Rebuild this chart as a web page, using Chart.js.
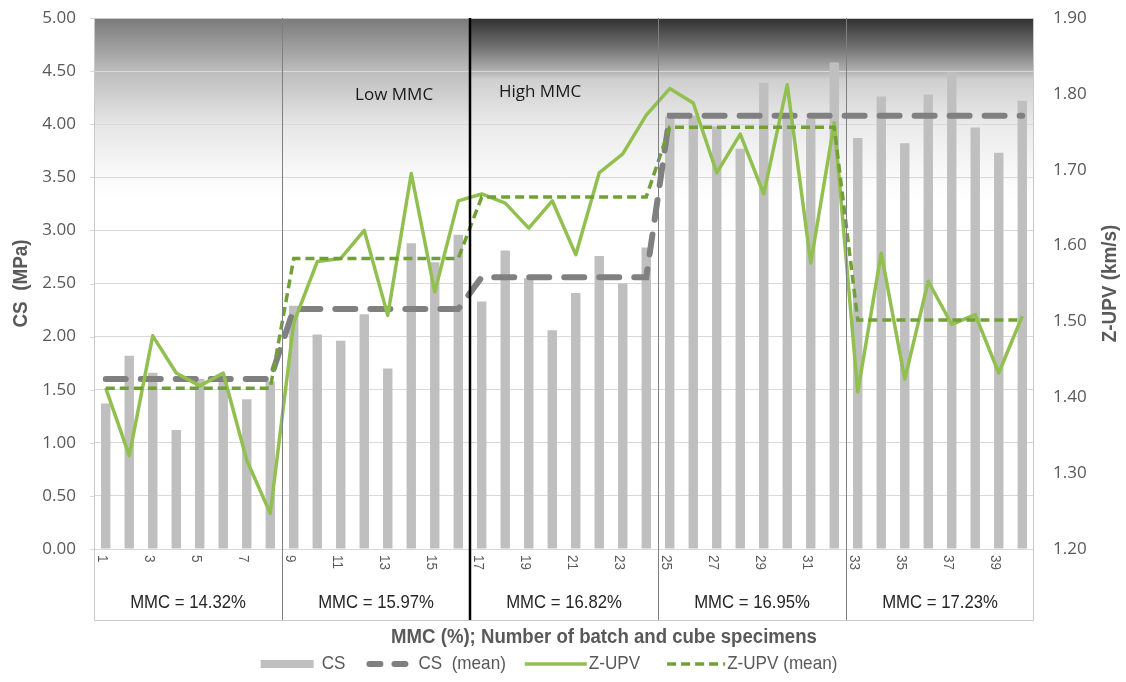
<!DOCTYPE html>
<html>
<head>
<meta charset="utf-8">
<script src="https://cdn.jsdelivr.net/npm/chart.js@4.4.1/dist/chart.umd.min.js"></script>
<style>
  html, body { margin: 0; padding: 0; background: #ffffff; }
  canvas { display: block; }
</style>
</head>
<body>
<canvas id="chart" width="1126" height="682"></canvas>
<script>
// Batch / cube specimen numbers (x categories)
const batchLabels = ['1','2','3','4','5','6','7','8','9','10','11','12','13','14','15','16','17','18','19','20',
                     '21','22','23','24','25','26','27','28','29','30','31','32','33','34','35','36','37','38','39','40'];

// MMC groups: caption and the last batch index (0-based) of each group
const groupLabels = ['MMC = 14.32%', 'MMC = 15.97%', 'MMC = 16.82%', 'MMC = 16.95%', 'MMC = 17.23%'];
const groupLastIndex = [7, 15, 23, 31, 39];

// Compressive strength, MPa
const csValues = [1.37, 1.82, 1.66, 1.12, 1.60, 1.62, 1.41, 1.58,
                  2.29, 2.02, 1.96, 2.21, 1.70, 2.88, 2.70, 2.96,
                  2.33, 2.81, 2.55, 2.06, 2.41, 2.76, 2.50, 2.84,
                  4.07, 4.08, 3.98, 3.77, 4.39, 4.10, 4.05, 4.58,
                  3.87, 4.26, 3.82, 4.28, 4.49, 3.97, 3.73, 4.22];

// Compressive strength, group mean, MPa
const csMean = [1.60, 1.60, 1.60, 1.60, 1.60, 1.60, 1.60, 1.60,
                2.26, 2.26, 2.26, 2.26, 2.26, 2.26, 2.26, 2.26,
                2.56, 2.56, 2.56, 2.56, 2.56, 2.56, 2.56, 2.56,
                4.08, 4.08, 4.08, 4.08, 4.08, 4.08, 4.08, 4.08,
                4.08, 4.08, 4.08, 4.08, 4.08, 4.08, 4.08, 4.08];

// Z-direction ultrasonic pulse velocity, km/s
const zupvValues = [1.412, 1.323, 1.481, 1.432, 1.415, 1.432, 1.317, 1.247,
                    1.498, 1.579, 1.583, 1.620, 1.508, 1.695, 1.539, 1.659,
                    1.668, 1.656, 1.623, 1.659, 1.588, 1.696, 1.721, 1.772,
                    1.807, 1.788, 1.696, 1.747, 1.668, 1.812, 1.577, 1.762,
                    1.407, 1.590, 1.424, 1.553, 1.496, 1.509, 1.432, 1.507];

// Z-UPV group mean, km/s
const zupvMean = [1.412, 1.412, 1.412, 1.412, 1.412, 1.412, 1.412, 1.412,
                  1.583, 1.583, 1.583, 1.583, 1.583, 1.583, 1.583, 1.583,
                  1.664, 1.664, 1.664, 1.664, 1.664, 1.664, 1.664, 1.664,
                  1.756, 1.756, 1.756, 1.756, 1.756, 1.756, 1.756, 1.756,
                  1.502, 1.502, 1.502, 1.502, 1.502, 1.502, 1.502, 1.502];

// Zone captions: text, position as (category index, CS value)
const zoneNames = ['Low MMC', 'High MMC'];
const zoneAt = [[12.27, 4.275], [18.48, 4.30]];

const axisTitleLeft = 'CS  (MPa)';
const axisTitleRight = 'Z-UPV (km/s)';
const axisTitleX = 'MMC (%); Number of batch and cube specimens';

const SANS = "'Liberation Sans', Arial, sans-serif";
const TEXT_GREY = '#595959';
const PLOT = { top: 18, bottom: 549, left: 94, right: 1034, tableBottom: 620 };

// Boundary pixel between category i and i+1
function boundaryPx(xs, i) {
  return (xs.getPixelForValue(i) + xs.getPixelForValue(i + 1)) / 2;
}

// Text drawn slightly condensed along its own direction
function condensedText(ctx, text, x, y, sx, angle) {
  ctx.save();
  ctx.translate(x, y);
  if (angle) ctx.rotate(angle);
  ctx.scale(sx, 1);
  ctx.fillText(text, 0, 0);
  ctx.restore();
}

// Shaded band at the top of the plot
const backdrop = {
  id: 'backdrop',
  beforeDraw(chart) {
    const { ctx, chartArea: a, scales } = chart;
    const xs = scales.x, ys = scales.y;
    const split = boundaryPx(xs, 15);
    const yEnd = ys.getPixelForValue(3.25);

    const light = ctx.createLinearGradient(0, a.top, 0, yEnd);
    light.addColorStop(0.00, '#7a7a7a');
    light.addColorStop(0.29, '#bdbdbd');
    light.addColorStop(0.58, '#e7e7e7');
    light.addColorStop(0.87, '#fbfbfb');
    light.addColorStop(1.00, '#ffffff');

    const dark = ctx.createLinearGradient(0, a.top, 0, yEnd);
    dark.addColorStop(0.00, '#303030');
    dark.addColorStop(0.15, '#6e6e6e');
    dark.addColorStop(0.29, '#b4b4b4');
    dark.addColorStop(0.33, '#cfcfcf');
    dark.addColorStop(0.58, '#ebebeb');
    dark.addColorStop(0.87, '#fafafa');
    dark.addColorStop(1.00, '#ffffff');

    ctx.save();
    ctx.fillStyle = light;
    ctx.fillRect(a.left, a.top, split - a.left, yEnd - a.top);
    ctx.fillStyle = dark;
    ctx.fillRect(split, a.top, a.right - split, yEnd - a.top);
    ctx.restore();
  }
};

// Group separators, table under the axis, captions and legend
const overlay = {
  id: 'overlay',
  afterDraw(chart) {
    const { ctx, chartArea: a, scales } = chart;
    const xs = scales.x, ys = scales.y;
    const tableBottom = PLOT.tableBottom;

    ctx.save();

    // short tick marks on the CS axis
    ctx.strokeStyle = '#d9d9d9';
    ctx.lineWidth = 1;
    ys.ticks.forEach(t => {
      const py = Math.round(ys.getPixelForValue(t.value)) + 0.5;
      ctx.beginPath();
      ctx.moveTo(a.left - 4, py);
      ctx.lineTo(a.left, py);
      ctx.stroke();
    });

    // plot and table frame
    ctx.strokeStyle = '#c9c9c9';
    ctx.beginPath();
    ctx.moveTo(a.left + 0.5, a.top + 0.5);
    ctx.lineTo(a.right - 0.5, a.top + 0.5);
    ctx.lineTo(a.right - 0.5, tableBottom + 0.5);
    ctx.lineTo(a.left + 0.5, tableBottom + 0.5);
    ctx.closePath();
    ctx.stroke();

    // group separators
    groupLastIndex.slice(0, -1).forEach((last, k) => {
      const bx = Math.round(boundaryPx(xs, last));
      const heavy = (k === 1);
      ctx.strokeStyle = heavy ? '#000000' : '#7f7f7f';
      ctx.lineWidth = heavy ? 2.5 : 1;
      ctx.beginPath();
      ctx.moveTo(bx + (heavy ? 0 : 0.5), a.top);
      ctx.lineTo(bx + (heavy ? 0 : 0.5), tableBottom);
      ctx.stroke();
    });

    // batch numbers (every second one), reading downwards
    ctx.fillStyle = TEXT_GREY;
    ctx.font = '15px ' + SANS;
    ctx.textAlign = 'left';
    ctx.textBaseline = 'middle';
    batchLabels.forEach((lab, i) => {
      if (i % 2 !== 0) return;
      condensedText(ctx, lab, xs.getPixelForValue(i) - 4, a.bottom + 6, 0.9, Math.PI / 2);
    });

    // group captions
    ctx.fillStyle = '#262626';
    ctx.font = '19px ' + SANS;
    ctx.textAlign = 'center';
    let first = 0;
    groupLastIndex.forEach((last, k) => {
      const left = first === 0 ? a.left : boundaryPx(xs, first - 1);
      const right = last === batchLabels.length - 1 ? a.right : boundaryPx(xs, last);
      condensedText(ctx, groupLabels[k], (left + right) / 2, 603, 0.88);
      first = last + 1;
    });

    // zone captions
    ctx.fillStyle = '#1a1a1a';
    ctx.font = "17px 'Open Sans', sans-serif";
    zoneNames.forEach((t, k) => {
      ctx.fillText(t, xs.getPixelForValue(zoneAt[k][0]), ys.getPixelForValue(zoneAt[k][1]));
    });

    // axis titles
    ctx.fillStyle = TEXT_GREY;
    ctx.font = 'bold 21px ' + SANS;
    const midY = (a.top + a.bottom) / 2;
    condensedText(ctx, axisTitleLeft, 21, midY, 0.9, -Math.PI / 2);
    condensedText(ctx, axisTitleRight, 1110, midY, 0.9, -Math.PI / 2);
    ctx.font = 'bold 20px ' + SANS;
    condensedText(ctx, axisTitleX, 604, 637, 0.93);

    // legend
    const ds = chart.data.datasets;
    const sx = 0.9;
    ctx.font = '19px ' + SANS;
    const items = [
      { w: 53, gap: 8, after: 21, dash: null },
      { w: 42, gap: 10, after: 19, dash: [11, 14] },
      { w: 62, gap: 2, after: 27, dash: null },
      { w: 58, gap: 2, after: 0, dash: [9, 5] }
    ];
    let total = 0;
    items.forEach((it, k) => {
      it.tw = ctx.measureText(ds[k].label).width * sx;
      total += it.w + it.gap + it.tw + it.after;
    });
    let lx = 549 - total / 2;
    const ly = 664;
    items.forEach((it, k) => {
      const d = ds[k];
      if (k === 0) {
        ctx.fillStyle = d.backgroundColor;
        ctx.fillRect(lx, ly - 4, it.w, 8);
      } else {
        ctx.strokeStyle = d.borderColor;
        ctx.lineWidth = d.borderWidth;
        ctx.lineCap = d.borderCapStyle || 'butt';
        ctx.setLineDash(it.dash || []);
        ctx.beginPath();
        const pad = ctx.lineCap === 'round' ? d.borderWidth / 2 : 0;
        ctx.moveTo(lx + pad, ly);
        ctx.lineTo(lx + it.w - pad, ly);
        ctx.stroke();
        ctx.setLineDash([]);
        ctx.lineCap = 'butt';
      }
      ctx.fillStyle = TEXT_GREY;
      ctx.textAlign = 'left';
      condensedText(ctx, d.label, lx + it.w + it.gap, ly, sx);
      lx += it.w + it.gap + it.tw + it.after;
    });

    ctx.restore();
  }
};

Chart.defaults.font.family = "'Open Sans', sans-serif";
Chart.defaults.color = TEXT_GREY;

const chart = new Chart(document.getElementById('chart'), {
  data: {
    labels: batchLabels,
    datasets: [
      { type: 'bar', label: 'CS', data: csValues, yAxisID: 'y',
        backgroundColor: '#bfbfbf', barPercentage: 0.4, categoryPercentage: 1, order: 4 },
      { type: 'line', label: 'CS  (mean)', data: csMean, yAxisID: 'y',
        borderColor: '#808080', borderWidth: 6, borderDash: [20, 15], borderCapStyle: 'round',
        pointRadius: 0, tension: 0, fill: false, order: 3 },
      { type: 'line', label: 'Z-UPV', data: zupvValues, yAxisID: 'y1',
        borderColor: '#92c050', borderWidth: 3.5, borderJoinStyle: 'round',
        pointRadius: 0, tension: 0, fill: false, order: 2 },
      { type: 'line', label: 'Z-UPV (mean)', data: zupvMean, yAxisID: 'y1',
        borderColor: '#71a037', borderWidth: 3.5, borderDash: [9, 5],
        pointRadius: 0, tension: 0, fill: false, order: 1 }
    ]
  },
  options: {
    responsive: false,
    animation: false,
    devicePixelRatio: 1,
    layout: { padding: { top: PLOT.top, left: 0, right: 0, bottom: 0 } },
    plugins: { legend: { display: false }, tooltip: { enabled: false } },
    scales: {
      x: {
        type: 'category', offset: true,
        grid: { display: false }, border: { display: false },
        ticks: { display: false },
        afterFit(s) { s.height = 682 - PLOT.bottom; }
      },
      y: {
        position: 'left', min: 0, max: 5,
        // label gap comes from an invisible tick mark so the plot top stays put
        ticks: { stepSize: 0.5, padding: 0, font: { size: 17 }, color: TEXT_GREY,
                 callback: v => Number(v).toFixed(2) },
        grid: { color: '#d9d9d9', tickLength: 18, tickColor: 'rgba(0,0,0,0)' },
        border: { color: '#bfbfbf' },
        afterFit(s) { s.width = PLOT.left; }
      },
      y1: {
        position: 'right', min: 1.2, max: 1.9,
        ticks: { stepSize: 0.1, padding: 0, font: { size: 17 }, color: TEXT_GREY,
                 callback: v => Number(v).toFixed(2) },
        grid: { display: true, drawOnChartArea: false, drawTicks: true, tickLength: 19,
                tickColor: 'rgba(0,0,0,0)' },
        border: { display: false },
        afterFit(s) { s.width = 1126 - PLOT.right; }
      }
    }
  },
  plugins: [backdrop, overlay]
});

// Pin the plot area's top edge
for (let pass = 0; pass < 3; pass++) {
  const diff = chart.chartArea.top - PLOT.top;
  if (Math.abs(diff) < 0.5) break;
  chart.options.layout.padding.top = Math.max(0, chart.options.layout.padding.top - diff);
  chart.update();
}
</script>
</body>
</html>
